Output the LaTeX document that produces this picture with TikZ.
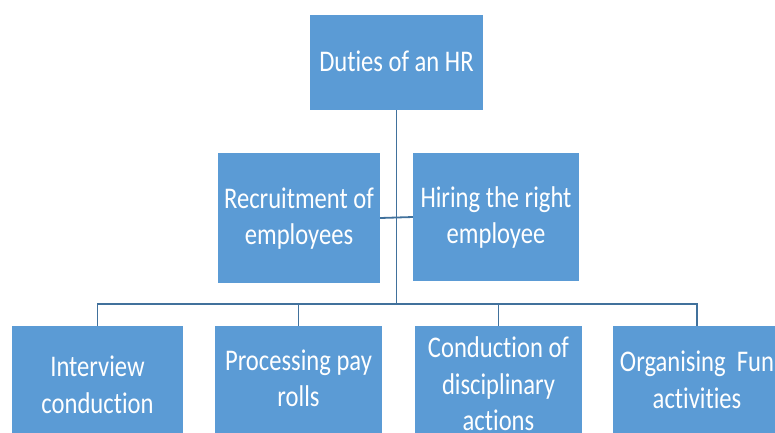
\documentclass[tikz,border=0pt]{standalone}
\usepackage{fontspec}
\setmainfont{Carlito}[FakeStretch=0.82,Ligatures=NoCommon]
\definecolor{boxblue}{HTML}{5B9BD5}
\definecolor{lineblue}{HTML}{41719C}
\newcommand\hstrut{\rule{0pt}{25pt}}
\newcommand\dstrut{\rule[-8pt]{0pt}{8pt}}
\begin{document}
\begin{tikzpicture}[x=1pt,y=-1pt,
  box/.style={fill=boxblue, text=white, inner sep=0pt, align=center,
    font=\fontsize{30}{36.5}\selectfont},
  conn/.style={draw=lineblue, line width=1.8pt}]
\useasboundingbox (0,0) rectangle (775,432);
\clip (0,0) rectangle (775,432);
\node[box, minimum width=173pt, minimum height=95pt] (top) at (396.5,62.5) {\hstrut Duties of an HR\dstrut};
\node[box, minimum width=162pt, minimum height=130pt] (rec) at (299,218) {\hstrut Recruitment of\\employees\dstrut};
\node[box, minimum width=166pt, minimum height=128pt] (hire) at (496,217) {\hstrut Hiring the right\\employee\dstrut};
% bottom boxes: top edge at y=326, they run past the lower edge of the picture
\node[box, minimum width=171pt, minimum height=121pt] (int) at (97.5,386.5) {\hstrut Interview\\conduction\dstrut};
\node[box, minimum width=167pt, minimum height=107.5pt] (proc) at (298.5,379.75) {\hstrut Processing pay\\rolls\dstrut};
\node[box, minimum width=167pt, minimum height=119.4pt] (cond) at (498.5,385.7) {\hstrut Conduction of\\disciplinary\\actions\dstrut};
\node[box, minimum width=168pt, minimum height=111pt] (org) at (697,381.5) {\hstrut Organising\ \ Fun\\activities\dstrut};
\coordinate (bus) at (396.5,304);
\draw[conn] (top.south) -- (bus);
\draw[conn] (rec.east) -- (hire.west);
\draw[conn] (int.north) -- (int.north |- bus) -| (org.north);
\draw[conn] (proc.north) -- (proc.north |- bus);
\draw[conn] (cond.north) -- (cond.north |- bus);
\end{tikzpicture}
\end{document}
